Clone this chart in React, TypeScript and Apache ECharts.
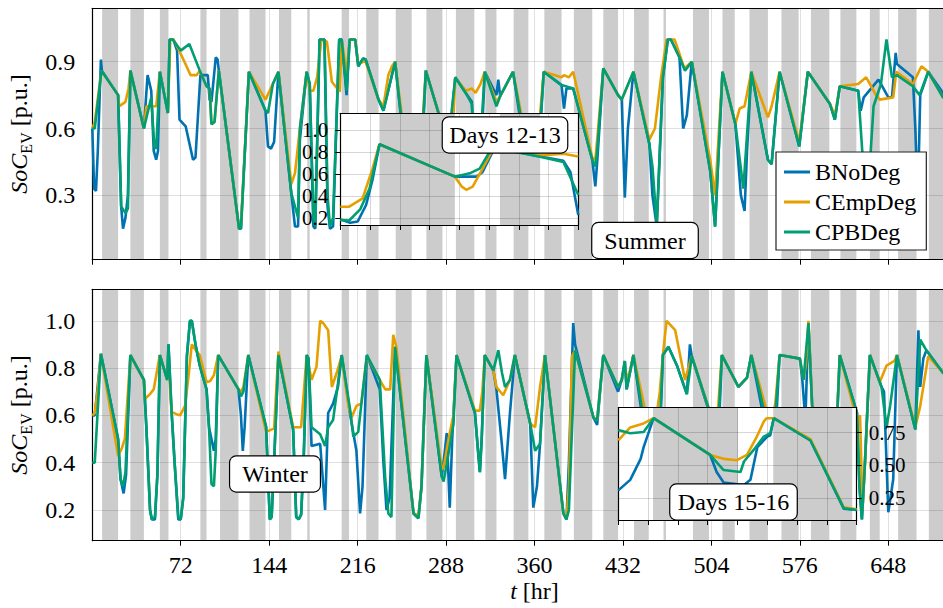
import React, { useEffect, useRef } from 'react';
import * as echarts from 'echarts';

const FONT = 'Liberation Serif';
const COLORS: Record<string, string> = { BNoDeg: '#0072B2', CEmpDeg: '#E69F00', CPBDeg: '#009E73' };
const seriesNames = ['BNoDeg', 'CEmpDeg', 'CPBDeg'];

// away (shaded) periods, hours
const awayBands: [number, number][] = [
  [8, 21], [31, 42], [55, 62], [88, 93], [104, 119], [128, 141], [152, 162], [175, 177],
  [203, 209], [223, 233], [247, 260], [272, 285], [296, 311], [320, 329], [343, 355],
  [368, 382], [392, 407], [416, 428], [441, 453], [465, 467], [489, 502], [513, 523],
  [535, 550], [561, 575], [585, 600], [609, 622], [633, 641], [656, 671], [681, 720],
];
const inset1Bands: [number, number][] = [[7.9, 23.1], [32.2, 40.3]];
const inset2Bands: [number, number][] = [[7.0, 24.1], [31.2, 47.1]];

// ---------- Summer (top) ----------
const summerBNoDeg = [
  [0, 0.6], [1.5, 0.33], [3, 0.32], [4.5, 0.5], [7, 0.91], [7.8, 0.86],
  [21, 0.75], [23.5, 0.25], [25, 0.15], [27, 0.2], [29, 0.3], [31, 0.86],
  [42, 0.6], [45, 0.84], [48, 0.77], [50, 0.5], [52, 0.46], [53.5, 0.5], [55, 0.855],
  [61.5, 0.67], [63, 1.0], [66, 1.0], [69, 0.95], [71, 0.64], [76, 0.61], [82, 0.46], [84, 0.47], [88, 0.84], [94, 0.84], [95.5, 0.73], [97, 0.72], [100.5, 0.92], [102, 0.91], [103, 0.86],
  [119.5, 0.15], [121, 0.15], [127.5, 0.855],
  [141, 0.68], [143, 0.52], [145.5, 0.51], [148, 0.54], [151.5, 0.855],
  [162, 0.31], [165, 0.16], [167.5, 0.16], [169, 0.55], [174.5, 0.855],
  [177, 0.8], [180, 0.16], [181.5, 0.15], [185, 1.0], [189, 1.0], [191.5, 0.25], [193.5, 0.15], [196, 0.16], [201, 1.0],
  [203, 1.0], [207, 0.75], [209.5, 1.0], [214, 1.0], [216.5, 0.88], [220.5, 0.915], [222.5, 0.91],
  [233, 0.73], [237, 0.68], [246.5, 0.9],
  [260, 0.2], [264, 0.17], [267, 0.3], [271.5, 0.86],
  [287, 0.575], [290, 0.575], [292, 0.62], [295.5, 0.83],
  [304, 0.76], [309, 0.72], [312, 0.23], [315, 0.3], [319.5, 0.855],
  [329, 0.75], [330.5, 0.82], [332, 0.745], [342.5, 0.855],
  [355, 0.4], [358, 0.2], [362, 0.35], [367.5, 0.855],
  [382, 0.795], [384, 0.69], [386, 0.78], [391.5, 0.78],
  [407, 0.46], [409.5, 0.34], [411, 0.45], [416, 0.87],
  [428, 0.75], [431, 0.73], [433.5, 0.29], [436, 0.6], [440.5, 0.855],
  [453.5, 0.53], [456, 0.3], [459.5, 0.16], [464.5, 0.83], [468.5, 1.0], [471, 1.0], [478, 0.92], [481, 0.6], [484, 0.66], [488, 0.9],
  [503, 0.41], [507, 0.16], [513, 0.855],
  [523.5, 0.62], [528, 0.3], [531, 0.23], [533, 0.5], [536.5, 0.855],
  [550, 0.46], [553, 0.44], [559.5, 0.855],
  [575.5, 0.52], [582.5, 0.855],
  [600.5, 0.71], [604.5, 0.64], [608.5, 0.79],
  [623.5, 0.77], [625.5, 0.68], [628, 0.74], [640, 0.82], [644, 0.78], [648, 0.74], [651, 0.74], [654, 0.94], [655, 0.89],
  [668, 0.83], [670, 0.6], [672, 0.27], [674, 0.75], [680.5, 0.855], [692.5, 0.76], [700, 0.74],
];
const summerCEmpDeg = [
  [0, 0.6], [2, 0.63], [7.5, 0.86],
  [21, 0.75], [22, 0.7], [27, 0.72], [29.5, 0.78], [31, 0.86],
  [42, 0.6], [44, 0.7], [52, 0.7], [55, 0.855],
  [61.5, 0.67], [63.5, 1.0], [66, 1.0], [69, 0.97], [75, 0.9], [80, 0.84], [85, 0.84], [87.5, 0.86],
  [93, 0.79], [95.5, 0.78], [97, 0.62], [99.5, 0.63], [103, 0.86],
  [119.5, 0.15], [121, 0.17], [127.5, 0.855],
  [141, 0.73], [151.5, 0.855],
  [162, 0.35], [165, 0.4], [169, 0.6], [174.5, 0.855],
  [177, 0.77], [180, 0.77], [183, 0.83], [186.5, 1.0], [191, 0.99], [195, 0.81], [201.5, 0.765],
  [203, 1.0], [207, 0.85], [209.5, 1.0], [214, 1.0], [216.5, 0.89], [220.5, 0.9], [222.5, 0.9],
  [233, 0.73], [237, 0.7], [241, 0.84], [244, 0.88], [246.5, 0.9],
  [260, 0.3], [264, 0.3], [267, 0.45], [271.5, 0.86],
  [287, 0.575], [289, 0.49], [290.5, 0.46], [292, 0.49], [294, 0.65], [295.5, 0.83],
  [304, 0.77], [309, 0.78], [312, 0.76], [316, 0.8], [319.5, 0.855],
  [329, 0.72], [332, 0.745], [342.5, 0.855],
  [355, 0.5], [358, 0.45], [362, 0.5], [367.5, 0.855],
  [382, 0.83], [384, 0.84], [388, 0.83], [391.5, 0.855],
  [407, 0.47], [409.5, 0.46], [411, 0.55], [416, 0.87],
  [428, 0.75], [431, 0.73], [440.5, 0.855],
  [453.5, 0.55], [458, 0.6], [463, 0.83], [467.5, 1.0], [474, 1.0], [482, 0.87], [488, 0.9],
  [503, 0.46], [507, 0.3], [513, 0.855],
  [523.5, 0.62], [527, 0.69], [531, 0.7], [536.5, 0.855],
  [550, 0.65], [553, 0.7], [559.5, 0.855],
  [575.5, 0.54], [582.5, 0.855],
  [600.5, 0.71], [604.5, 0.66], [608.5, 0.79],
  [623.5, 0.8], [630, 0.83], [638, 0.75], [641, 0.73], [652, 0.74], [654.5, 0.855],
  [668, 0.8], [675, 0.88], [680.5, 0.855], [692.5, 0.74], [700, 0.72],
];
const summerCPBDeg = [
  [0, 0.6], [2, 0.6], [7.5, 0.86],
  [21, 0.75], [23.5, 0.25], [27, 0.22], [29, 0.24], [31, 0.86],
  [42, 0.6], [48, 0.74], [50.5, 0.52], [52, 0.51], [55, 0.855],
  [61.5, 0.67], [63, 1.0], [65.5, 1.0], [72, 0.95], [79, 0.98], [87.5, 0.86],
  [93, 0.79], [95.5, 0.78], [97, 0.62], [99.5, 0.63], [103, 0.86],
  [119.5, 0.15], [121, 0.15], [127.5, 0.855],
  [141, 0.68], [143, 0.67], [147, 0.8], [151.5, 0.855],
  [162, 0.31], [165, 0.25], [167.5, 0.2], [169, 0.6], [174.5, 0.855],
  [177, 0.8], [180, 0.2], [181.5, 0.16], [185, 1.0], [189, 1.0], [191.5, 0.3], [193.5, 0.16], [196, 0.2], [201, 1.0],
  [203, 1.0], [207, 0.77], [209.5, 1.0], [214, 1.0], [216.5, 0.88], [220.5, 0.915], [222.5, 0.91],
  [233, 0.73], [237, 0.68], [246.5, 0.9],
  [260, 0.22], [264, 0.18], [267, 0.4], [271.5, 0.86],
  [287, 0.575], [290, 0.6], [292, 0.65], [295.5, 0.83],
  [304, 0.76], [309, 0.71], [312, 0.41], [315, 0.45], [319.5, 0.855],
  [329, 0.7], [332, 0.745], [342.5, 0.855],
  [355, 0.45], [358, 0.3], [362, 0.4], [367.5, 0.855],
  [382, 0.795], [391.5, 0.78],
  [407, 0.46], [409.5, 0.43], [411, 0.5], [416, 0.87],
  [428, 0.75], [431, 0.73], [440.5, 0.855],
  [453.5, 0.53], [456, 0.43], [459.5, 0.17], [464.5, 0.83], [468.5, 1.0], [471, 1.0], [478, 0.92], [482.5, 0.86], [488, 0.9],
  [503, 0.41], [507, 0.16], [513, 0.855],
  [523.5, 0.62], [530, 0.33], [536.5, 0.855],
  [550, 0.46], [553, 0.44], [559.5, 0.855],
  [575.5, 0.52], [582.5, 0.855],
  [600.5, 0.71], [604.5, 0.64], [608.5, 0.79],
  [623.5, 0.77], [628, 0.4], [632, 0.35], [636, 0.7], [642, 0.8], [646.5, 1.0], [651, 0.83], [655, 0.84],
  [668, 0.79], [673.5, 0.75], [680.5, 0.855], [692.5, 0.74], [700, 0.72],
];

// ---------- Winter (bottom) ----------
const winterBNoDeg = [
  [0, 0.6], [2, 0.6], [7, 0.86],
  [21, 0.5], [23, 0.33], [25.5, 0.27], [27.5, 0.35], [31, 0.855],
  [42, 0.75], [44, 0.55], [47, 0.2], [48.5, 0.16], [51, 0.16], [53, 0.35], [55, 0.855],
  [61, 0.75], [62, 0.9], [64.5, 0.62], [67, 0.4], [70, 0.16], [72, 0.16], [74, 0.25], [77, 0.85], [79.5, 1.0], [81, 1.0], [84, 0.9], [87.5, 0.81],
  [93, 0.71], [95, 0.55], [97, 0.5], [99, 0.45], [100.5, 0.5], [102.5, 0.855],
  [119, 0.71], [121, 0.6], [122.5, 0.45], [124, 0.55], [127, 0.855],
  [141.5, 0.55], [143, 0.35], [144.5, 0.16], [146, 0.17], [148, 0.4], [151.5, 0.855],
  [163.5, 0.54], [166, 0.17], [168, 0.16], [170, 0.18], [172, 0.4], [174.5, 0.855],
  [176, 0.84], [178.5, 0.47], [185.5, 0.48], [189.5, 0.2], [192, 0.61], [196, 0.65], [200, 0.72], [203, 0.855],
  [210, 0.6], [215, 0.45], [218, 0.185], [220, 0.3], [223.5, 0.855],
  [234, 0.71], [237, 0.4], [239.5, 0.2], [242, 0.25], [246.5, 0.89],
  [261.5, 0.185], [265.5, 0.165], [268, 0.3], [272, 0.855],
  [284.5, 0.34], [287, 0.45], [288.5, 0.525], [291, 0.21], [293, 0.5], [296.5, 0.855],
  [311.5, 0.61], [314, 0.45], [315.5, 0.36], [317, 0.5], [319.5, 0.855],
  [326.5, 0.79], [329, 0.71], [333, 0.5], [336, 0.33], [340, 0.61], [344, 0.855],
  [356.5, 0.565], [359, 0.21], [362, 0.3], [364.5, 0.48], [368.5, 0.855],
  [383.5, 0.185], [386, 0.16], [388, 0.4], [391.5, 0.99], [393, 0.9],
  [408, 0.59], [411, 0.56], [416, 0.855],
  [428, 0.7], [431, 0.75], [433.5, 0.83], [435, 0.71], [440.5, 0.855],
  [453, 0.4], [457, 0.2], [460, 0.2], [464.5, 0.855], [469, 0.89], [476, 0.81], [484, 0.69], [486.5, 0.9], [488, 0.85],
  [503, 0.6], [506, 0.3], [509, 0.4], [512.5, 0.855],
  [523, 0.75], [526, 0.72], [533, 0.76], [536.5, 0.855],
  [550, 0.5], [553, 0.35], [556, 0.5], [559.5, 0.855],
  [576, 0.84], [578, 0.75], [580.5, 0.58], [583, 0.99], [586, 0.64],
  [600, 0.35], [604, 0.3], [608.5, 0.855],
  [622.5, 0.61], [624.5, 0.3], [626.5, 0.16], [629, 0.4], [633, 0.855],
  [642.5, 0.72], [644.5, 0.7], [648, 0.19], [652, 0.33], [655, 0.855],
  [670, 0.54], [672.5, 0.96], [674, 0.72], [676.5, 0.84], [679, 0.875], [692.5, 0.78], [700, 0.76],
];
const winterCEmpDeg = [
  [0, 0.6], [2, 0.61], [4.5, 0.71], [7, 0.86],
  [21, 0.43], [24, 0.46], [26.5, 0.5], [31, 0.855],
  [42, 0.75], [43, 0.67], [47, 0.69], [50, 0.71], [55, 0.855],
  [61, 0.75], [62, 0.83], [64.5, 0.615], [68.5, 0.605], [71.5, 0.6], [75.5, 0.64], [78, 0.75], [81, 0.9], [85, 0.87], [87.5, 0.855],
  [93, 0.74], [96, 0.745], [99, 0.77], [102.5, 0.855],
  [119, 0.71], [121, 0.7], [123, 0.72], [127, 0.855],
  [141.5, 0.53], [148, 0.545], [151.5, 0.87],
  [163.5, 0.55], [170, 0.55], [174.5, 0.855],
  [178.5, 0.75], [182.5, 0.805], [185.5, 1.0], [188, 0.99], [192, 0.96], [195, 0.72], [199, 0.78], [203, 0.85],
  [208.5, 0.64], [211, 0.59], [215, 0.64], [219, 0.65], [223.5, 0.85],
  [234, 0.75], [238.5, 0.71], [242.5, 0.71], [245, 0.94], [247.5, 0.89],
  [261.5, 0.185], [265.5, 0.18], [268, 0.3], [272, 0.855],
  [284.5, 0.37], [286, 0.38], [290, 0.5], [294, 0.6], [296.5, 0.855],
  [311.5, 0.62], [315.5, 0.62], [317.5, 0.7], [319.5, 0.855],
  [326.5, 0.79], [329, 0.72], [334.5, 0.685], [340, 0.75], [344, 0.855],
  [356.5, 0.565], [360.5, 0.55], [364.5, 0.72], [368.5, 0.855],
  [383.5, 0.185], [386, 0.165], [388, 0.3], [390.5, 0.85], [393, 0.875],
  [408, 0.59], [411, 0.58], [416, 0.855],
  [428, 0.72], [431, 0.75], [433.5, 0.8], [436, 0.75], [440.5, 0.855],
  [453, 0.55], [458, 0.55], [462, 0.7], [464.5, 0.855], [467.5, 1.0], [474.5, 0.96], [482.5, 0.75], [488, 0.85],
  [503, 0.61], [506, 0.55], [509, 0.6], [512.5, 0.855],
  [523, 0.75], [526, 0.72], [533, 0.76], [536.5, 0.855],
  [550, 0.6], [553, 0.58], [556, 0.65], [559.5, 0.855],
  [576, 0.84], [579, 0.75], [581, 0.82], [583, 1.0], [586, 0.65],
  [600, 0.4], [604, 0.35], [608.5, 0.855],
  [622.5, 0.58], [625, 0.6], [627, 0.2], [629, 0.4], [633, 0.855],
  [641, 0.74], [646.5, 0.81], [653, 0.83], [655, 0.855],
  [670, 0.55], [674, 0.64], [680.5, 0.85], [692.5, 0.78], [700, 0.76],
];
const winterCPBDeg = [
  [0, 0.4], [2, 0.4], [7, 0.86],
  [21, 0.5], [23, 0.33], [25, 0.3], [27, 0.36], [31, 0.855],
  [42, 0.75], [44, 0.55], [47, 0.2], [48.5, 0.16], [51, 0.17], [53, 0.35], [55, 0.855],
  [61, 0.75], [62, 0.9], [64.5, 0.62], [67, 0.4], [70, 0.17], [72, 0.16], [74, 0.25], [77, 0.85], [79.5, 1.0], [81, 1.0], [84, 0.9], [87.5, 0.81],
  [93, 0.71], [95, 0.55], [97, 0.31], [99, 0.3], [100.5, 0.45], [102.5, 0.855],
  [119, 0.71], [121, 0.68], [123, 0.7], [127, 0.855],
  [141.5, 0.55], [143, 0.35], [144.5, 0.16], [146, 0.17], [148, 0.4], [151.5, 0.855],
  [163.5, 0.54], [166, 0.17], [168, 0.16], [170, 0.18], [172, 0.4], [174.5, 0.855],
  [176, 0.84], [178.5, 0.55], [185.5, 0.52], [189.5, 0.47], [192, 0.55], [196, 0.58], [200, 0.735], [203, 0.855],
  [210, 0.62], [212.5, 0.51], [216.5, 0.53], [223.5, 0.855],
  [234, 0.75], [238.5, 0.33], [241, 0.185], [243.5, 0.17], [246.5, 0.89],
  [261.5, 0.185], [265.5, 0.165], [268, 0.3], [272, 0.855],
  [284.5, 0.34], [286, 0.32], [290, 0.44], [294, 0.565], [296.5, 0.855],
  [311.5, 0.61], [314, 0.45], [315.5, 0.36], [317, 0.5], [319.5, 0.855],
  [326.5, 0.79], [330.5, 0.875], [333.5, 0.78], [336, 0.72], [340, 0.75], [344, 0.855],
  [356.5, 0.565], [360.5, 0.45], [364.5, 0.48], [368.5, 0.855],
  [383.5, 0.185], [386, 0.16], [388, 0.2], [393, 0.875],
  [408, 0.59], [411, 0.58], [416, 0.855],
  [428, 0.72], [431, 0.75], [433.5, 0.83], [435, 0.71], [440.5, 0.855],
  [453, 0.45], [457, 0.3], [460, 0.3], [464.5, 0.855], [469, 0.89], [476, 0.81], [484, 0.69], [488, 0.85],
  [503, 0.61], [506, 0.4], [509, 0.5], [512.5, 0.855],
  [523, 0.75], [526, 0.72], [533, 0.76], [536.5, 0.855],
  [550, 0.55], [553, 0.5], [556, 0.6], [559.5, 0.855],
  [576, 0.84], [579, 0.75], [583, 0.99], [586, 0.64],
  [600, 0.4], [604, 0.3], [608.5, 0.855],
  [622.5, 0.61], [624.5, 0.3], [626.5, 0.16], [629, 0.4], [633, 0.855],
  [642.5, 0.72], [646.5, 0.55], [649.5, 0.64], [655, 0.855],
  [670, 0.54], [674, 0.92], [679, 0.875], [692.5, 0.78], [700, 0.76],
];

// ---------- Insets (hours within the two days) ----------
const days1213BNoDeg = [[0, 0.19], [2, 0.16], [3.5, 0.17], [5.2, 0.32], [6.5, 0.55], [7.9, 0.87], [23.1, 0.577], [27.5, 0.577], [28.7, 0.62], [30.7, 0.8], [32.2, 0.83], [40.3, 0.76], [45, 0.72], [46.4, 0.62], [48, 0.23]];
const days1213CEmpDeg = [[0, 0.305], [1.8, 0.305], [4.5, 0.38], [6.5, 0.65], [7.9, 0.87], [23.1, 0.577], [24.5, 0.487], [25.4, 0.458], [26.7, 0.487], [28.7, 0.65], [30.7, 0.82], [32.2, 0.83], [40.3, 0.77], [45, 0.785], [48, 0.76]];
const days1213CPBDeg = [[0, 0.185], [1.8, 0.18], [4, 0.28], [5.9, 0.47], [7.9, 0.87], [23.1, 0.577], [26.1, 0.607], [28.1, 0.65], [30.1, 0.8], [32.2, 0.83], [40.3, 0.758], [45, 0.71], [48, 0.41]];

const days1516BNoDeg = [[0, 0.31], [2.4, 0.39], [4.5, 0.55], [5.1, 0.64], [7.1, 0.86], [18.5, 0.58], [19.8, 0.45], [21.2, 0.37], [25.3, 0.35], [26.6, 0.39], [28, 0.64], [30, 0.72], [30.6, 0.73], [31.3, 0.86], [38.7, 0.69], [45.4, 0.17], [48, 0.16]];
const days1516CEmpDeg = [[0, 0.69], [2.4, 0.79], [5.1, 0.82], [7.1, 0.86], [18.5, 0.58], [21.2, 0.55], [23.9, 0.54], [25.9, 0.58], [27.9, 0.72], [29.3, 0.835], [29.9, 0.86], [31.3, 0.86], [38.7, 0.7], [45.4, 0.18], [48, 0.165]];
const days1516CPBDeg = [[0, 0.77], [2.4, 0.745], [5.1, 0.755], [7.1, 0.86], [18.5, 0.58], [21.2, 0.465], [24.6, 0.45], [25.3, 0.53], [27.3, 0.62], [29.3, 0.72], [30.6, 0.745], [31.3, 0.86], [38.7, 0.69], [45.4, 0.173], [48, 0.16]];

// ---------- layout ----------
const PX_PER_HR = 1.2284;
const MAIN_LEFT = 92.3;
const MAIN_W = 720 * PX_PER_HR;
const TOP_Y = 8.3;
const BOT_Y = 289.3;
const MAIN_H = 251.4;
const IN1 = { left: 340.3, top: 113.3, width: 238, height: 111.7 };
const IN2 = { left: 618.3, top: 407.7, width: 238.4, height: 112.3 };

const bandSeries = (axisIdx: number, yIdx: number, data: [number, number][], z: number) => ({
  type: 'custom',
  xAxisIndex: axisIdx,
  yAxisIndex: yIdx,
  z,
  silent: true,
  data,
  encode: { x: [0, 1] },
  renderItem: (params: any, api: any) => {
    const s = api.coord([api.value(0), 0]);
    const e = api.coord([api.value(1), 0]);
    const cs = params.coordSys;
    return {
      type: 'rect',
      shape: { x: s[0], y: cs.y, width: e[0] - s[0], height: cs.height },
      style: { fill: '#cccccc' },
    };
  },
});

const lineSeries = (name: string, data: number[][], xi: number, yi: number, z: number) => ({
  type: 'line',
  name,
  data,
  xAxisIndex: xi,
  yAxisIndex: yi,
  z,
  showSymbol: false,
  symbol: 'none',
  clip: true,
  lineStyle: { width: 2.6, color: COLORS[name] },
  itemStyle: { color: COLORS[name] },
});

const grid2 = 'rgba(0,0,0,0.12)';

const mainX = (g: number, labels: boolean) => ({
  type: 'value', gridIndex: g, min: 0, max: 720, minInterval: 72, maxInterval: 72, z: 2,
  axisLine: { show: true, onZero: false, lineStyle: { color: '#000', width: 1.2 } },
  axisTick: { show: true, length: 5, lineStyle: { color: '#000' } },
  axisLabel: { show: labels, showMinLabel: false, showMaxLabel: false, margin: 12, fontFamily: FONT, fontSize: 24, color: '#000' },
  splitLine: { show: true, lineStyle: { color: grid2, width: 1 } },
  ...(labels ? {
    name: '{i|t} [hr]', nameLocation: 'middle', nameGap: 38,
    nameTextStyle: { fontFamily: FONT, fontSize: 24, color: '#000', rich: { i: { fontStyle: 'italic', fontFamily: FONT, fontSize: 24 } } },
  } : {}),
});
const borderX = (g: number, min: number, max: number, z: number) => ({
  type: 'value', gridIndex: g, min, max, position: 'top', z,
  axisLine: { show: true, onZero: false, lineStyle: { color: '#000', width: 1.2 } },
  axisTick: { show: false }, axisLabel: { show: false }, splitLine: { show: false },
});
const borderY = (g: number, min: number, max: number, pos: string, z: number) => ({
  type: 'value', gridIndex: g, min, max, position: pos, z,
  axisLine: { show: true, onZero: false, lineStyle: { color: '#000', width: 1.2 } },
  axisTick: { show: false }, axisLabel: { show: false }, splitLine: { show: false },
});
const yName = {
  name: '{i|SoC}{s|EV}{n| [p.u.]}', nameLocation: 'middle', nameGap: 54, nameRotate: 90,
  nameTextStyle: {
    fontFamily: FONT, fontSize: 24, color: '#000',
    rich: {
      i: { fontStyle: 'italic', fontFamily: FONT, fontSize: 24, color: '#000' },
      s: { fontFamily: FONT, fontSize: 16, color: '#000', padding: [14, 0, 0, 0] },
      n: { fontFamily: FONT, fontSize: 24, color: '#000' },
    },
  },
};
const mainY = (g: number, min: number, max: number, step: number) => ({
  type: 'value', gridIndex: g, min, max, minInterval: step, maxInterval: step, z: 2,
  axisLine: { show: true, onZero: false, lineStyle: { color: '#000', width: 1.2 } },
  axisTick: { show: false },
  axisLabel: { showMinLabel: false, showMaxLabel: false, margin: 17, fontFamily: FONT, fontSize: 24, color: '#000', formatter: (v: number) => v.toFixed(1) },
  splitLine: { show: true, lineStyle: { color: grid2, width: 1 } },
  ...yName,
});
const insetX = (g: number) => ({
  type: 'value', gridIndex: g, min: 0, max: 48, minInterval: 6, maxInterval: 6, z: 7,
  axisLine: { show: true, onZero: false, lineStyle: { color: '#000', width: 1.2 } },
  axisTick: { show: true, length: 5, lineStyle: { color: '#000' } },
  axisLabel: { show: false },
  splitLine: { show: true, lineStyle: { color: 'rgba(0,0,0,0.16)', width: 1 } },
});
const insetY = (g: number, min: number, max: number, step: number, pos: string, digits: number) => ({
  type: 'value', gridIndex: g, min, max, minInterval: step, maxInterval: step, position: pos, z: 7,
  axisLine: { show: true, onZero: false, lineStyle: { color: '#000', width: 1.2 } },
  axisTick: { show: true, length: 5, lineStyle: { color: '#000' } },
  axisLabel: {
    showMinLabel: false, showMaxLabel: false, margin: 12, lineHeight: 19,
    fontFamily: FONT, fontSize: 21, color: '#000', formatter: (v: number) => v.toFixed(digits),
  },
  splitLine: { show: true, lineStyle: { color: 'rgba(0,0,0,0.16)', width: 1 } },
});

const boxText = (text: string, x: number, y: number, padX: number) => ({
  type: 'text', z: 20, x, y,
  style: {
    text, align: 'center', verticalAlign: 'middle', fontFamily: FONT, fontSize: 24, fill: '#000',
    backgroundColor: '#fff', borderColor: '#000', borderWidth: 1.2, borderRadius: 6, padding: [6, padX, 5, padX],
  },
});

export default function App() {
  const ref = useRef<HTMLDivElement>(null);
  useEffect(() => {
    if (!ref.current) return;
    const chart = echarts.init(ref.current, undefined, { renderer: 'svg' });
    const grids = [
      { left: MAIN_LEFT, top: TOP_Y, width: MAIN_W, height: MAIN_H },
      { left: MAIN_LEFT, top: BOT_Y, width: MAIN_W, height: MAIN_H },
      { ...IN1, show: true, backgroundColor: '#fff', borderWidth: 0, z: 5 },
      { ...IN2, show: true, backgroundColor: '#fff', borderWidth: 0, z: 5 },
    ].map((g) => ({ containLabel: false, outerBoundsMode: 'none', ...g }));

    const option: any = {
      animation: false,
      backgroundColor: '#fff',
      grid: grids,
      xAxis: [
        mainX(0, false), borderX(0, 0, 720, 3),
        mainX(1, true), borderX(1, 0, 720, 3),
        insetX(2), borderX(2, 0, 48, 8),
        insetX(3), borderX(3, 0, 48, 8),
      ],
      yAxis: [
        mainY(0, 0.011, 1.14, 0.3),
        mainY(1, 0.07, 1.133, 0.2),
        insetY(2, 0.139, 1.151, 0.2, 'left', 1), borderY(2, 0.139, 1.151, 'right', 8),
        insetY(3, 0.084, 0.94, 0.25, 'right', 2), borderY(3, 0.084, 0.94, 'left', 8),
      ],
      legend: {
        left: 776, top: 152, orient: 'vertical', z: 20,
        backgroundColor: '#fff', borderColor: '#222', borderWidth: 1.2, borderRadius: 0,
        padding: [8, 10, 6, 8], itemGap: 6, itemWidth: 26, itemHeight: 3, icon: 'rect',
        textStyle: { fontFamily: FONT, fontSize: 24, color: '#000' },
        data: seriesNames,
      },
      graphic: [
        boxText('Summer', 645, 240.5, 12),
        boxText('Winter', 275, 474, 12),
        boxText('Days 12-13', 505, 135, 6.5),
        boxText('Days 15-16', 733.5, 502, 7.5),
      ],
      series: [
        bandSeries(0, 0, awayBands, 1),
        bandSeries(2, 1, awayBands, 1),
        lineSeries('BNoDeg', summerBNoDeg, 0, 0, 3),
        lineSeries('CEmpDeg', summerCEmpDeg, 0, 0, 3),
        lineSeries('CPBDeg', summerCPBDeg, 0, 0, 3),
        lineSeries('BNoDeg', winterBNoDeg, 2, 1, 3),
        lineSeries('CEmpDeg', winterCEmpDeg, 2, 1, 3),
        lineSeries('CPBDeg', winterCPBDeg, 2, 1, 3),
        bandSeries(4, 2, inset1Bands, 6),
        bandSeries(6, 4, inset2Bands, 6),
        lineSeries('BNoDeg', days1213BNoDeg, 4, 2, 9),
        lineSeries('CEmpDeg', days1213CEmpDeg, 4, 2, 9),
        lineSeries('CPBDeg', days1213CPBDeg, 4, 2, 9),
        lineSeries('BNoDeg', days1516BNoDeg, 6, 4, 9),
        lineSeries('CEmpDeg', days1516CEmpDeg, 6, 4, 9),
        lineSeries('CPBDeg', days1516CPBDeg, 6, 4, 9),
      ],
    };
    chart.setOption(option);
    return () => chart.dispose();
  }, []);
  return (
    <div
      ref={ref}
      style={{ position: 'absolute', left: 0, top: 0, width: 943, height: 608, overflow: 'hidden', background: '#fff' }}
    />
  );
}
